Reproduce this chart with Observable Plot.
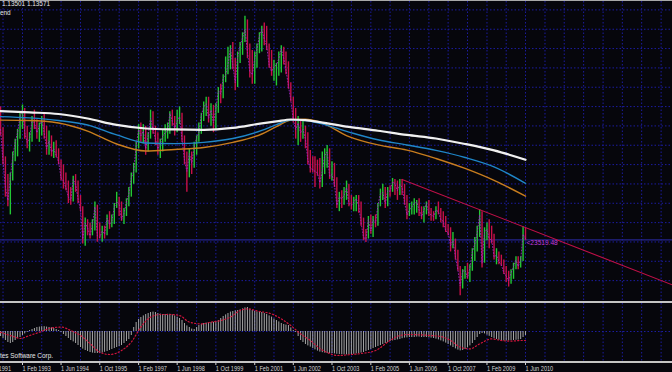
<!DOCTYPE html>
<html><head><meta charset="utf-8">
<script src="https://cdn.jsdelivr.net/npm/d3@7"></script>
<script src="https://cdn.jsdelivr.net/npm/@observablehq/plot@0.6"></script>
<style>
html,body{margin:0;padding:0;background:#06060c;}
#wrap{position:relative;width:672px;height:372px;overflow:hidden;background:#06060c;font-family:"Liberation Sans",sans-serif;}
.abs{position:absolute}
.txt{position:absolute;font-size:8px;line-height:8px;white-space:nowrap;color:#e6e6e6;font-family:"Liberation Sans",sans-serif;transform:scaleX(0.8);transform-origin:0 0}
.hline{position:absolute;left:0;width:672px}
#sub g[aria-label^="x-axis"] text{text-anchor:start}
</style></head><body>
<div id="wrap">
 <div id="main" class="abs" style="left:0;top:0"></div>
 <div id="sub" class="abs" style="left:0;top:301px"></div>
 <div class="hline" style="top:0;height:1px;background:#a8a8a8"></div>
 <div class="hline" style="top:301px;height:2px;background:#c4c4c4"></div>
 <div class="hline" style="top:361px;height:2px;background:#c4c4c4"></div>
 <div class="txt" style="left:2px;top:0px">1.13501 1.13571</div>
 <div class="txt" style="left:0;top:9px">end</div>
 <div class="txt" style="left:0;top:352px">tes Software Corp.</div>
</div>
<script>
// ---- data (monthly bars from May 1992 to Jun 2010) ----
const firstMonth = "1992-05";
const firstOpen = 1.525;
const high = [1.550,1.485,1.395,1.340,1.345,1.410,1.450,1.480,
1.530,1.556,1.545,1.490,1.470,1.520,1.540,1.510,1.500,1.520,1.530,1.490,
1.475,1.460,1.440,1.445,1.420,1.385,1.370,1.345,1.320,1.300,1.335,1.340,
1.320,1.275,1.240,1.205,1.200,1.190,1.200,1.255,1.245,1.190,1.180,1.180,
1.215,1.225,1.215,1.250,1.285,1.270,1.255,1.235,1.265,1.300,1.345,1.375,
1.440,1.495,1.500,1.495,1.490,1.470,1.540,1.535,1.490,1.470,1.450,1.480,
1.495,1.500,1.535,1.540,1.520,1.540,1.550,1.530,1.460,1.410,1.420,1.410,
1.440,1.460,1.500,1.530,1.565,1.580,1.580,1.560,1.555,1.560,1.610,1.620,
1.650,1.705,1.735,1.740,1.750,1.700,1.720,1.750,1.780,1.831,1.820,1.745,
1.725,1.720,1.745,1.780,1.800,1.810,1.800,1.745,1.725,1.695,1.685,1.720,
1.740,1.735,1.720,1.690,1.625,1.580,1.545,1.520,1.510,1.505,1.490,1.470,
1.415,1.395,1.395,1.385,1.390,1.410,1.420,1.430,1.420,1.380,1.375,1.330,
1.285,1.290,1.300,1.320,1.310,1.275,1.270,1.275,1.275,1.255,1.205,1.170,
1.210,1.215,1.210,1.215,1.250,1.295,1.310,1.300,1.300,1.305,1.328,1.325,
1.320,1.325,1.325,1.310,1.275,1.250,1.255,1.265,1.260,1.265,1.240,1.240,
1.255,1.260,1.235,1.225,1.240,1.255,1.235,1.225,1.210,1.185,1.175,1.160,
1.140,1.105,1.055,1.045,1.055,1.065,1.060,1.110,1.145,1.180,1.231,1.225,
1.175,1.190,1.200,1.180,1.155,1.110,1.100,1.090,1.075,1.055,1.040,1.045,
1.065,1.085,1.085,1.085,1.178,1.175];
const low = [1.460,1.370,1.270,1.240,1.215,1.320,1.380,1.395,
1.450,1.480,1.450,1.420,1.410,1.440,1.480,1.450,1.440,1.460,1.450,1.400,
1.400,1.395,1.390,1.392,1.370,1.320,1.295,1.290,1.250,1.245,1.255,1.285,
1.250,1.225,1.125,1.118,1.150,1.140,1.150,1.165,1.130,1.140,1.130,1.140,
1.150,1.170,1.175,1.185,1.235,1.210,1.195,1.185,1.210,1.240,1.270,1.310,
1.345,1.420,1.440,1.435,1.400,1.410,1.450,1.465,1.430,1.400,1.390,1.410,
1.440,1.450,1.465,1.490,1.460,1.470,1.495,1.440,1.370,1.285,1.330,1.340,
1.360,1.400,1.440,1.465,1.505,1.520,1.500,1.490,1.470,1.480,1.530,1.560,
1.575,1.625,1.650,1.665,1.665,1.600,1.610,1.685,1.710,1.750,1.700,1.640,
1.620,1.620,1.670,1.715,1.720,1.740,1.725,1.670,1.645,1.630,1.615,1.645,
1.655,1.680,1.650,1.605,1.565,1.500,1.450,1.430,1.440,1.450,1.420,1.370,
1.345,1.345,1.300,1.335,1.295,1.300,1.340,1.360,1.325,1.320,1.300,1.235,
1.225,1.235,1.245,1.260,1.240,1.230,1.225,1.225,1.220,1.180,1.135,1.129,
1.140,1.155,1.145,1.175,1.180,1.240,1.260,1.235,1.240,1.270,1.285,1.275,
1.260,1.275,1.275,1.245,1.200,1.210,1.215,1.215,1.220,1.210,1.200,1.190,
1.215,1.210,1.195,1.195,1.200,1.215,1.190,1.175,1.160,1.150,1.100,1.110,
1.075,1.040,0.964,0.985,1.015,1.015,1.005,1.040,1.070,1.100,1.145,1.050,
1.065,1.135,1.110,1.125,1.075,1.060,1.060,1.055,1.030,1.005,0.991,1.000,
1.015,1.045,1.045,1.050,1.070,1.135];
const close = [1.480,1.380,1.300,1.260,1.330,1.395,1.440,1.470,
1.520,1.540,1.470,1.440,1.450,1.510,1.500,1.470,1.490,1.510,1.470,1.420,
1.445,1.410,1.420,1.400,1.380,1.330,1.320,1.300,1.270,1.260,1.325,1.310,
1.265,1.230,1.140,1.190,1.175,1.150,1.185,1.240,1.150,1.145,1.165,1.155,
1.205,1.185,1.195,1.240,1.255,1.250,1.200,1.220,1.255,1.280,1.330,1.350,
1.430,1.480,1.460,1.475,1.420,1.460,1.515,1.480,1.450,1.420,1.435,1.460,
1.470,1.475,1.530,1.505,1.485,1.505,1.520,1.450,1.385,1.350,1.405,1.375,
1.425,1.455,1.470,1.525,1.550,1.560,1.515,1.540,1.500,1.545,1.600,1.590,
1.640,1.650,1.680,1.730,1.680,1.625,1.705,1.740,1.765,1.790,1.720,1.660,
1.650,1.700,1.730,1.770,1.790,1.760,1.740,1.680,1.660,1.675,1.680,1.700,
1.730,1.700,1.665,1.615,1.570,1.510,1.480,1.500,1.470,1.480,1.450,1.385,
1.360,1.355,1.350,1.345,1.315,1.350,1.400,1.410,1.335,1.340,1.310,1.245,
1.270,1.265,1.275,1.300,1.250,1.245,1.255,1.265,1.245,1.190,1.145,1.140,
1.200,1.165,1.200,1.190,1.245,1.280,1.285,1.250,1.290,1.288,1.318,1.312,
1.290,1.310,1.300,1.255,1.215,1.230,1.240,1.250,1.255,1.230,1.210,1.230,
1.250,1.220,1.215,1.210,1.230,1.225,1.200,1.195,1.165,1.160,1.120,1.135,
1.085,1.045,0.995,1.040,1.043,1.020,1.050,1.100,1.125,1.160,1.215,1.065,
1.160,1.170,1.140,1.138,1.085,1.090,1.070,1.060,1.035,1.025,1.010,1.035,
1.055,1.075,1.055,1.075,1.155,1.140];

// MACD main (histogram), one value per month
const macd = [-0.025,-0.035,-0.045,-0.055,-0.06,-0.055,-0.045,-0.035,-0.03,-0.02,-0.012,-0.005,0.005,
0.01,0.015,0.02,0.022,0.024,0.024,0.022,0.02,0.018,0.015,0.01,0.005,
-0.005,-0.015,-0.025,-0.035,-0.045,-0.052,-0.06,
-0.07,-0.08,-0.088,-0.095,-0.1,-0.105,-0.108,-0.11,-0.11,-0.11,-0.108,-0.104,-0.1,-0.095,-0.09,-0.085,-0.08,-0.075,-0.07,-0.06,-0.05,-0.04,-0.02,0.02,
0.045,0.06,0.07,0.078,0.085,0.09,0.095,0.097,0.095,0.09,0.087,0.085,0.085,0.086,0.086,0.083,0.078,0.072,0.065,0.055,0.04,0.028,0.02,0.012,0.01,
0.02,0.03,0.035,0.04,0.042,0.044,0.045,0.046,0.048,
0.055,0.065,0.075,0.083,0.09,0.097,0.1,0.103,0.105,0.108,0.113,0.118,0.12,0.112,0.105,0.1,0.098,0.097,0.095,0.09,0.085,0.078,0.072,0.062,0.055,0.048,0.04,0.035,0.032,0.03,0.018,0.005,
-0.005,-0.025,-0.045,-0.055,-0.065,-0.072,-0.078,-0.085,-0.092,-0.098,
-0.103,-0.106,-0.108,-0.11,-0.11,-0.11,-0.112,-0.114,-0.115,-0.116,
-0.117,-0.117,-0.116,-0.115,-0.114,-0.112,-0.11,-0.108,-0.105,-0.1,
-0.095,-0.09,-0.085,-0.08,-0.075,-0.07,-0.065,-0.06,-0.055,-0.05,
-0.047,-0.045,-0.042,-0.04,-0.036,-0.033,-0.032,-0.03,-0.03,-0.03,
-0.028,-0.028,-0.03,-0.03,-0.03,-0.032,-0.033,-0.035,-0.038,-0.042,
-0.047,-0.052,-0.058,-0.065,-0.072,-0.08,-0.087,-0.093,-0.097,-0.095,
-0.09,-0.082,-0.072,-0.06,-0.045,-0.03,-0.015,-0.01,-0.012,-0.018,
-0.024,-0.03,-0.036,-0.04,-0.044,-0.046,-0.047,-0.048,-0.047,-0.046,
-0.045,-0.044,-0.043,-0.04,-0.03,-0.02];

// MACD signal (month index, value)
const sigMonth = [0,6,8,12,16,21,25,29,33,37,41,45,50,54,58,62,66,70,74,78,83,87,91,95,99,102,107,112,116,120,124,128,132,136,139,145,149,155,161,165,169,174,178,182,186,190,194,198,203,207,211,215,217];
const sigValue = [-0.004,-0.028,-0.035,-0.02,-0.004,0.018,0.022,0.005,-0.02,-0.06,-0.103,-0.115,-0.095,-0.053,0.022,0.072,0.085,0.085,0.08,0.047,0.038,0.047,0.055,0.072,0.105,0.113,0.1,0.088,0.063,0.03,-0.012,-0.045,-0.085,-0.11,-0.12,-0.115,-0.11,-0.095,-0.045,-0.02,-0.015,-0.017,-0.02,-0.025,-0.045,-0.078,-0.087,-0.062,-0.037,-0.045,-0.048,-0.045,-0.045];

// moving averages (month index, value)
const maMonth  = [0,12,24,36,48,60,72,84,96,108,114,120,126,132,144,156,168,180,192,204,217];
const maWhite  = [1.537,1.533,1.528,1.514,1.494,1.483,1.480,1.479,1.485,1.499,1.505,1.511,1.509,1.503,1.488,1.476,1.463,1.452,1.435,1.415,1.386];
const maBlue   = [1.520,1.516,1.508,1.494,1.463,1.438,1.436,1.440,1.452,1.477,1.495,1.509,1.508,1.499,1.472,1.448,1.432,1.415,1.393,1.364,1.313];
const maOrange = [1.509,1.508,1.500,1.475,1.435,1.413,1.418,1.424,1.440,1.466,1.489,1.509,1.512,1.503,1.458,1.432,1.416,1.390,1.359,1.322,1.273];

// trend line and price line
const trendMonths = ["2006-03","2015-07"];
const trendPrices = [1.325, 0.997];
const priceLine = 1.1375;
const priceLabel = "<23519.48";

// grid and axis
const gridPrices = [1.851,1.791,1.731,1.671,1.611,1.551,1.491,1.431,1.371,1.311,1.251,1.191,1.131,1.071,1.011];
const gridMonths = ["1991-10","1992-06","1993-02","1993-10","1994-06","1995-02","1995-10","1996-06","1997-02","1997-10","1998-06","1999-02","1999-10","2000-06","2001-02","2001-10","2002-06","2003-02","2003-10","2004-06","2005-02","2005-10","2006-06","2007-02","2007-10","2008-06","2009-02","2009-10","2010-06","2011-02","2011-10","2012-06","2013-02","2013-10","2014-06","2015-02"];
const tickLabels = ["1 Oct 1991","1 Feb 1993","1 Jun 1994","1 Oct 1995","1 Feb 1997","1 Jun 1998","1 Oct 1999","1 Feb 2001","1 Jun 2002","1 Oct 2003","1 Feb 2005","1 Jun 2006","1 Oct 2007","1 Feb 2009","1 Jun 2010"];

// ---- build ----
const parseYM = d3.utcParse("%Y-%m");
const parseTick = d3.utcParse("%d %b %Y");
const fmtTick = d3.utcFormat("%-d %b %Y");
const start = parseYM(firstMonth);
const monthDate = i => d3.utcMonth.offset(start, i);

const bars = high.map((h, i) => ({
  date: monthDate(i), high: h, low: low[i], close: close[i],
  open: i === 0 ? firstOpen : close[i - 1]
}));
const hist = macd.map((v, i) => ({date: monthDate(i), v}));
const sig = sigMonth.map((m, i) => ({date: monthDate(m), v: sigValue[i]}));
const mas = [["#c87d1e", maOrange, 1.4], ["#1f86c8", maBlue, 1.4], ["#f0f0f0", maWhite, 2.2]];
const trend = trendMonths.map((m, i) => ({date: parseYM(m), p: trendPrices[i]}));
const gridDates = gridMonths.map(parseYM);
const tickDates = tickLabels.map(parseTick);

const xDomain = [new Date(Date.UTC(1992, 3, 30, 5)), new Date(Date.UTC(2015, 5, 24, 5))];
const gridColor = "#1c1ca0";
const green = "#22c834", red = "#c8104a";

const main = Plot.plot({
  width: 672, height: 301,
  marginTop: 1, marginBottom: 0, marginLeft: 0, marginRight: 0,
  style: {background: "transparent", fontFamily: "Liberation Sans, sans-serif", fontSize: "7px"},
  x: {type: "utc", domain: xDomain, range: [0, 672], axis: null},
  y: {domain: [0.94935, 1.87395], range: [300, 2], axis: null},
  marks: [
    Plot.ruleX(gridDates, {x: d => d, stroke: gridColor, strokeDasharray: "1.5,2"}),
    Plot.ruleY(gridPrices, {y: d => d, stroke: gridColor, strokeDasharray: "1.5,2"}),
    Plot.ruleY([priceLine], {y: d => d, stroke: "#24248c", strokeWidth: 1.3}),
    Plot.ruleX(bars, {x: "date", y1: "low", y2: "high", stroke: d => d.close >= d.open ? green : red, strokeWidth: 1.4}),
    Plot.line(bars, {x: "date", y: "close", stroke: "#a426c8", strokeWidth: 1, strokeDasharray: "1,2", strokeOpacity: 0.85}),
    ...mas.map(([c, vals, w]) => Plot.line(maMonth.map((m, i) => ({date: monthDate(m), v: vals[i]})),
      {x: "date", y: "v", stroke: c, strokeWidth: w, curve: "monotone-x"})),
    Plot.line(trend, {x: "date", y: "p", stroke: "#c01048", strokeWidth: 1.1, clip: true}),
    Plot.text([{date: monthDate(217), p: priceLine, t: priceLabel}],
      {x: "date", y: "p", text: "t", textAnchor: "start", dx: 1, dy: 3, fill: "#c23ad6", fontSize: 8})
  ]
});
document.getElementById("main").appendChild(main);

const sub = Plot.plot({
  width: 672, height: 71,
  marginTop: 2, marginBottom: 10, marginLeft: 0, marginRight: 0,
  style: {background: "transparent", color: "#d4d4d4", fontFamily: "Liberation Sans, sans-serif", fontSize: "8px"},
  x: {type: "utc", domain: xDomain, range: [0, 672], ticks: tickDates, tickFormat: fmtTick, tickSize: 3, tickPadding: 0, label: null},
  y: {domain: [-0.155, 0.14], range: [61, 2], axis: null},
  marks: [
    Plot.ruleX(gridDates, {x: d => d, stroke: gridColor, strokeDasharray: "1.5,2"}),
    Plot.ruleY([0], {y: d => d, stroke: gridColor, strokeDasharray: "1.5,2"}),
    Plot.ruleX(hist, {x: "date", y1: 0, y2: "v", stroke: "#a6a6a6", strokeWidth: 1}),
    Plot.line(sig, {x: "date", y: "v", stroke: "#d0143c", strokeWidth: 1.2, strokeDasharray: "1.2,2.2", curve: "monotone-x"})
  ]
});
document.getElementById("sub").appendChild(sub);

// condense the small MetaTrader-style texts horizontally
function condense(sel, k) {
  document.querySelectorAll(sel).forEach(t => {
    const L = t.getComputedTextLength();
    if (L > 0) { t.setAttribute("textLength", (L * k).toFixed(1)); t.setAttribute("lengthAdjust", "spacingAndGlyphs"); }
  });
}
condense('#sub svg g[aria-label^="x-axis"] text', 0.7);
condense('#main svg g[aria-label="text"] text', 0.82);
</script>
</body></html>
